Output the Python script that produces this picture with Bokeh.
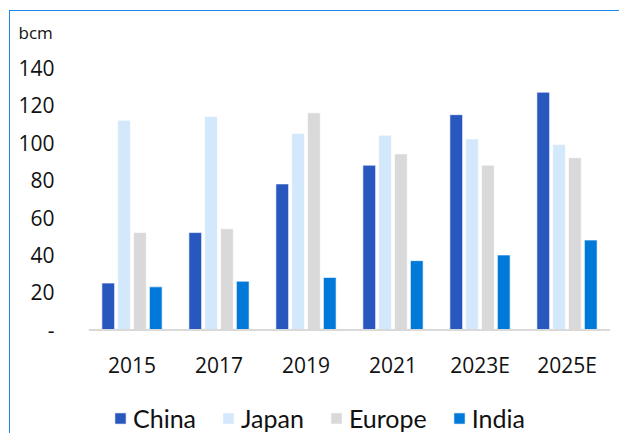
from bokeh.plotting import figure
from bokeh.models import FactorRange, Range1d, FixedTicker, Legend, LegendItem, ColumnDataSource, Span
from bokeh.transform import dodge
from bokeh.core.properties import value
from bokeh.embed import file_html
from bokeh.resources import INLINE

years = ["2015", "2017", "2019", "2021", "2023E", "2025E"]
series = ["China", "Japan", "Europe", "India"]
china = [25, 52, 78, 88, 115, 127]
japan = [112, 114, 105, 104, 102, 99]
europe = [52, 54, 116, 94, 88, 92]
india = [23, 26, 28, 37, 40, 48]
colors = ["#2857BE", "#D3E8FB", "#D9D9D9", "#0079D9"]
y_ticks = [0, 20, 40, 60, 80, 100, 120, 140]

source = ColumnDataSource(dict(year=years, China=china, Japan=japan, Europe=europe, India=india))

p = figure(width=610, height=423, output_backend="svg", toolbar_location=None,
           x_range=FactorRange(*years, range_padding=0, factor_padding=0),
           y_range=Range1d(-55.9, 150.9),
           min_border_left=78, min_border_right=10, min_border_top=36, min_border_bottom=0)
p.styles = {"margin-left": "9px", "margin-top": "10px",
            "border-left": "1px solid #1E88E5", "border-top": "1px solid #1E88E5"}

offsets = [-0.273, -0.091, 0.091, 0.273]
items = []
for name, col, off in zip(series, colors, offsets):
    r = p.vbar(x=dodge("year", off, range=p.x_range), top=name, width=0.146, source=source,
               fill_color=col, line_color="white", line_alpha=0.6, line_width=1)
    items.append(LegendItem(label=name, renderers=[r]))

p.outline_line_color = None
p.grid.grid_line_color = None
p.xaxis.visible = False

# baseline at zero
p.add_layout(Span(location=0, dimension="width", line_color="#D9D9D9", line_width=2))

# category labels under the baseline
p.text(x=years, y=[0] * len(years), text=years, y_offset=35,
       text_align="center", text_baseline="middle",
       text_font=value("Open Sans"), text_font_size="21px", text_color="#111111")

p.title.text = "bcm"
p.title.text_font = "Open Sans"
p.title.text_font_size = "17px"
p.title.text_font_style = "normal"
p.title.text_color = "#111111"
p.title.align = "left"
p.title.vertical_align = "top"
p.title.offset = -70
p.title.standoff = 4

ya = p.yaxis[0]
ya.ticker = FixedTicker(ticks=y_ticks)
ya.major_label_overrides = {0: "-"}
ya.axis_line_color = None
ya.major_tick_line_color = None
ya.minor_tick_line_color = None
ya.major_label_text_font = "Open Sans"
ya.major_label_text_font_size = "21px"
ya.major_label_text_color = "#111111"
ya.major_label_standoff = 28

legend = Legend(items=items, orientation="horizontal", location=(25, 1),
                label_text_font="Lato", label_text_font_size="25px", label_text_color="#111111",
                glyph_width=14, glyph_height=14, spacing=25, label_standoff=6,
                border_line_color=None, background_fill_alpha=0, margin=0, padding=0)
p.add_layout(legend)

open("out.html", "w").write(file_html(p, INLINE))
